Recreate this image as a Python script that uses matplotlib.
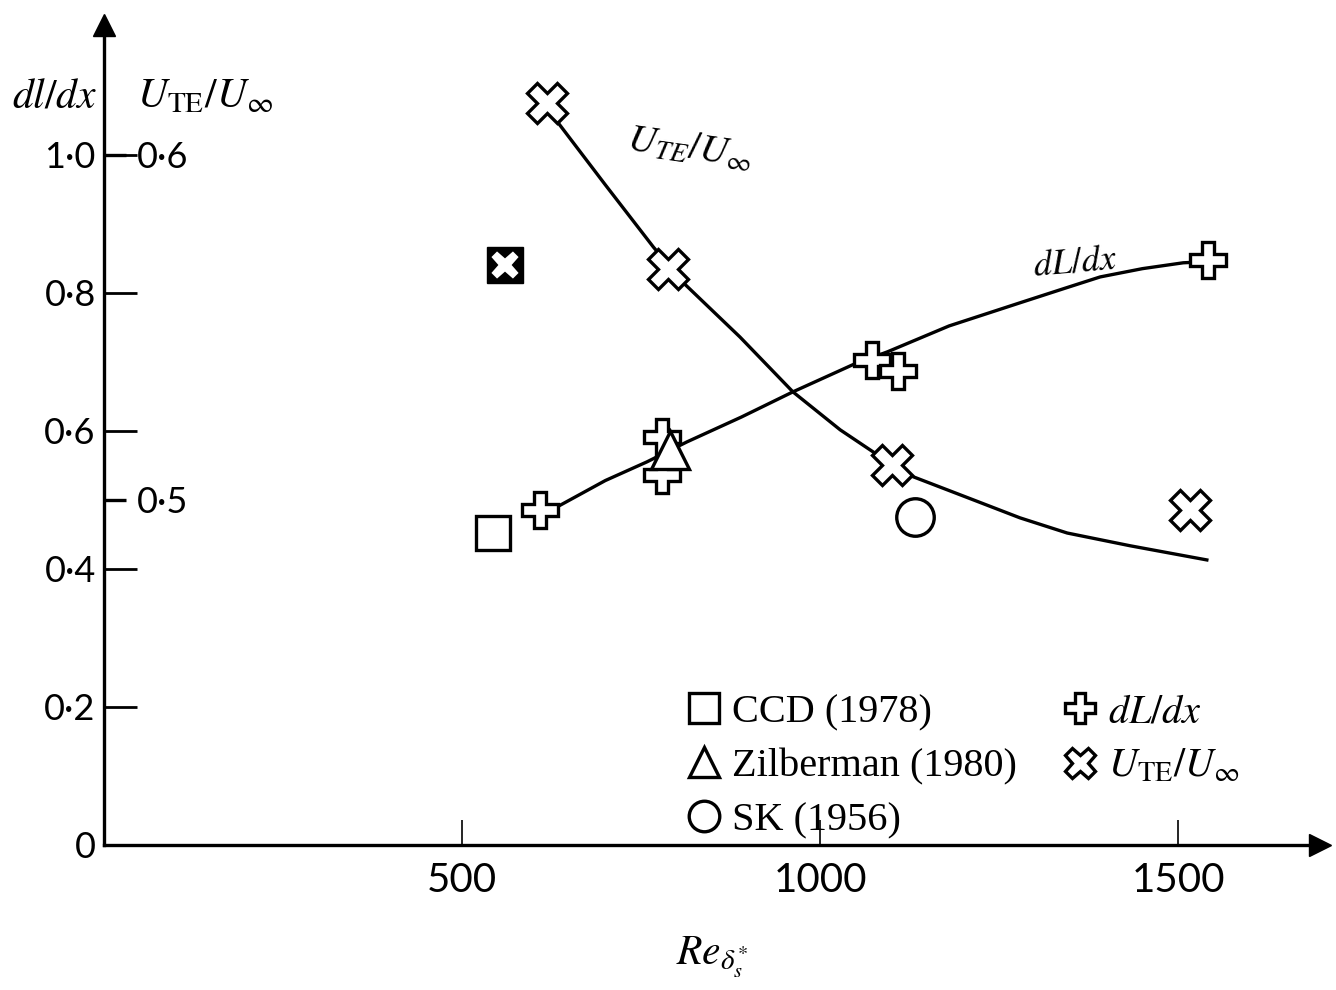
import numpy as np
import matplotlib
matplotlib.use('Agg')
import matplotlib.pyplot as plt

# values
re_dl = [609, 779, 779, 1073, 1109, 1542]
dl_vals = [0.486, 0.591, 0.536, 0.703, 0.686, 0.848]

re_ute = [619, 788, 1101, 1517]
ute_vals = [0.615, 0.567, 0.510, 0.497]

re_ccd, dl_ccd = [543], [0.452]
re_ccd_ute, ute_ccd = [560], [0.568]
re_zil, dl_zil = [790], [0.572]
re_sk, dl_sk = [1133], [0.475]

# hand drawn curves through the points
curve_re_dl = [609, 633, 700, 758, 814, 890, 962, 1046, 1094, 1180, 1279, 1340, 1391, 1450, 1507, 1538]
curve_dl = [0.486, 0.490, 0.528, 0.555, 0.584, 0.620, 0.6565, 0.696, 0.7145, 0.752, 0.7855,
            0.806, 0.823, 0.835, 0.8435, 0.845]
curve_re_ute = [619, 634, 700, 767, 809, 888, 962, 1028, 1074, 1130, 1214, 1279, 1345, 1433, 1540]
curve_ute = [0.6145, 0.6093, 0.5913, 0.5733, 0.5629, 0.5472, 0.5313, 0.5203, 0.5139, 0.5067,
             0.500, 0.4948, 0.4904, 0.4867, 0.4826]

dl_ticks = [0, 0.2, 0.4, 0.6, 0.8, 1.0]
dl_ticklabels = ['0', '0·2', '0·4', '0·6', '0·8', '1·0']
ute_ticks = [0.5, 0.6]
ute_ticklabels = ['0·5', '0·6']
re_ticks = [500, 1000, 1500]


def u2d(u):
    return (np.asarray(u) - 0.4) / 0.2


def d2u(d):
    return 0.4 + 0.2 * np.asarray(d)


plt.rcParams['mathtext.fontset'] = 'stix'
num_font = 'Lato'

fig = plt.figure(figsize=(13.36, 9.9), dpi=100)
ax = fig.add_axes([104 / 1336, 145 / 990, 1216 / 1336, 820 / 990])
ax.set_xlim(0, 1698)
ax.set_ylim(0, 1.188)

ax.plot(curve_re_dl, curve_dl, 'k-', lw=2.4, zorder=2)
ax.plot(curve_re_ute, u2d(curve_ute), 'k-', lw=2.4, zorder=2)

mk = dict(color='k', mfc='white', mew=2.4, ls='none', zorder=4)
ax.plot(re_ccd, dl_ccd, marker='s', ms=24, label='CCD (1978)', **mk)
ax.plot(re_zil, dl_zil, marker='^', ms=27, label='Zilberman (1980)', color='k', mfc='white',
        mew=2.4, ls='none', zorder=6)
ax.plot(re_sk, dl_sk, marker='o', ms=27, label='SK (1956)', **mk)
ax.plot(re_dl, dl_vals, marker='P', ms=26, label=r'$dL/dx$', **mk)
ax.plot(re_ute, u2d(ute_vals), marker='X', ms=29, label=r'$U_{\mathrm{TE}}/U_{\infty}$', **mk)
ax.plot(re_ccd_ute, u2d(ute_ccd), marker='s', ms=26, color='k', mfc='k', ls='none', zorder=4)
ax.plot(re_ccd_ute, u2d(ute_ccd), marker='X', ms=22, color='white', mfc='white', mec='k', mew=1.5,
        ls='none', zorder=5)

for s in ['top', 'right']:
    ax.spines[s].set_visible(False)
for s in ['left', 'bottom']:
    ax.spines[s].set_linewidth(2.4)

ax.set_yticks(dl_ticks)
ax.set_yticklabels(dl_ticklabels, fontsize=26, family=num_font)
ax.tick_params(axis='y', direction='in', length=24, width=2, pad=6)
ax.set_xticks(re_ticks)
ax.set_xticklabels([str(t) for t in re_ticks], fontsize=29, family=num_font)
ax.tick_params(axis='x', direction='in', length=18, width=1.2, pad=12)

sec = ax.secondary_yaxis(0, functions=(d2u, u2d))
sec.set_alignment('right')
sec.set_yticks(ute_ticks)
sec.set_yticklabels(ute_ticklabels, fontsize=26, family=num_font)
sec.tick_params(axis='y', direction='out', length=16, width=2.4, pad=8)
for s in sec.spines.values():
    s.set_visible(False)

# axis arrows
ax.plot(1, 0, marker='>', ms=16, color='k', transform=ax.get_yaxis_transform(), clip_on=False)
ax.plot(0, 1, marker='^', ms=16, color='k', transform=ax.get_xaxis_transform(), clip_on=False)

ax.set_xlabel(r'$Re_{\delta_s^{*}}$', fontsize=30, labelpad=26)

fig.text(55 / 1336, 1 - 95 / 990, r'$dl/dx$', fontsize=30, ha='center', va='center')
fig.text(205 / 1336, 1 - 95 / 990, r'$U_{\mathrm{TE}}/U_{\infty}$', fontsize=30, ha='center', va='center')

# handwritten labels on the curves
ax.text(818, 1.01, r'$U_{TE}/U_{\infty}$', fontsize=28, ha='center', va='center',
        rotation=-8, color='k')
ax.text(1356, 0.845, r'$dL/dx$', fontsize=26, ha='center', va='center', rotation=5)

leg = ax.legend(ncol=2, loc='upper left', bbox_to_anchor=(662 / 1336, 1 - 674 / 990),
                bbox_transform=fig.transFigure, frameon=False,
                prop={'family': 'Liberation Serif', 'size': 29},
                handletextpad=0.15, labelspacing=0.42, columnspacing=1.0,
                handlelength=1.1, borderpad=0)
for h in leg.legend_handles:
    h.set_markersize(22)

fig.savefig('out.png', dpi=100)
